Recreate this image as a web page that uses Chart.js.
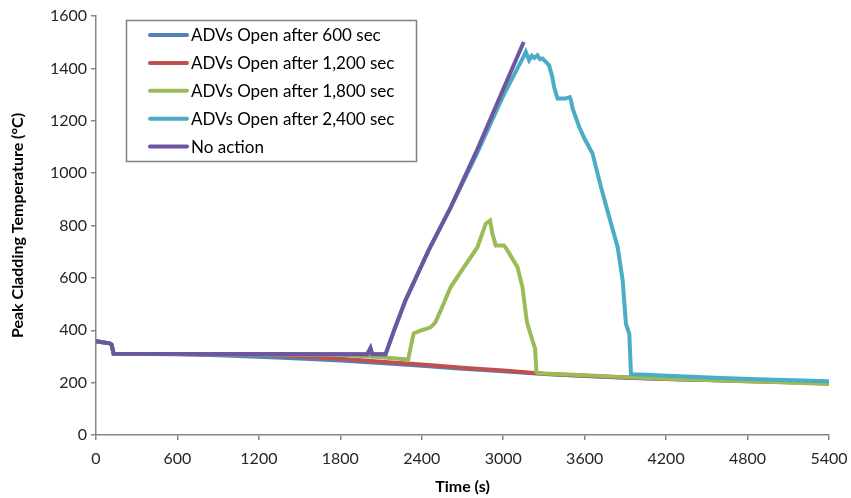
<!DOCTYPE html>
<html>
<head>
<meta charset="utf-8">
<script src="https://cdn.jsdelivr.net/npm/chart.js@4.4.1/dist/chart.umd.min.js"></script>
<style>
  html, body { margin: 0; padding: 0; background: #fff; }
  #wrap { width: 851px; height: 498px; }
</style>
</head>
<body>
<div id="wrap"><canvas id="myChart" width="851" height="498"></canvas></div>
<script>
// tick values
var xTicks = [0, 600, 1200, 1800, 2400, 3000, 3600, 4200, 4800, 5400];
var yTicks = [0, 200, 400, 600, 800, 1000, 1200, 1400, 1600];

var labels = [
  "ADVs Open after 600 sec",
  "ADVs Open after 1,200 sec",
  "ADVs Open after 1,800 sec",
  "ADVs Open after 2,400 sec",
  "No action"
];
var colors = ["#4F81BD", "#C0504D", "#9BBB59", "#4BACC6", "#6E55A0"];

// ADVs open after 600 sec
var t600 = [0, 100, 115, 130, 600, 900, 1200, 1500, 1800, 2100, 2400, 2700, 3000, 3300, 3600, 3900, 4200, 4500, 4800, 5100, 5400];
var v600 = [358, 350, 345, 310, 308, 305, 299, 292, 284, 275, 264, 253, 243, 233, 225, 219, 214, 210, 207, 203, 200];

// ADVs open after 1,200 sec
var t1200 = [0, 100, 115, 130, 1200, 1500, 1800, 2100, 2400, 2700, 3000, 3300, 3600, 3900, 4200, 4500, 4800, 5100, 5400];
var v1200 = [358, 350, 345, 310, 307, 300, 291, 280, 269, 257, 246, 234, 226, 220, 214, 210, 205, 201, 197];

// ADVs open after 1,800 sec
var t1800 = [0, 100, 115, 130, 1800, 2100, 2300, 2320, 2340, 2400, 2465, 2500, 2539, 2613, 2711, 2810, 2871, 2903, 2920, 2945, 3006, 3031, 3105, 3142, 3155, 3175, 3210, 3235, 3245, 3260, 3600, 3900, 4200, 4500, 4800, 5100, 5400];
var v1800 = [358, 350, 345, 310, 306, 297, 288, 340, 388, 400, 411, 430, 475, 565, 641, 717, 807, 819, 769, 724, 724, 705, 641, 564, 510, 430, 370, 330, 240, 236, 228, 221, 215, 210, 205, 200, 195];

// ADVs open after 2,400 sec
var t2400 = [0, 100, 115, 130, 2000, 2010, 2022, 2035, 2133, 2200, 2280, 2450, 2613, 2800, 3000, 3100, 3150, 3166, 3191, 3210, 3230, 3252, 3270, 3289, 3338, 3360, 3375, 3400, 3460, 3490, 3498, 3511, 3560, 3600, 3658, 3720, 3781, 3843, 3880, 3904, 3929, 3941, 3960, 4300, 4600, 5000, 5400];
var v2400 = [358, 350, 345, 310, 308, 320, 332, 308, 308, 405, 514, 705, 869, 1068, 1295, 1395, 1445, 1463, 1431, 1448, 1440, 1450, 1435, 1438, 1412, 1370, 1329, 1285, 1285, 1290, 1280, 1247, 1176, 1130, 1075, 947, 832, 717, 590, 424, 386, 233, 232, 224, 218, 211, 205];

// no action
var tNo = [0, 100, 115, 130, 2000, 2010, 2022, 2035, 2133, 2200, 2280, 2450, 2613, 2800, 3000, 3151];
var vNo = [358, 350, 345, 310, 308, 320, 332, 308, 308, 405, 514, 705, 869, 1080, 1320, 1501];

function pts(t, v) {
  return t.map(function (x, i) { return { x: x, y: v[i] }; });
}

var series = [pts(t600, v600), pts(t1200, v1200), pts(t1800, v1800), pts(t2400, v2400), pts(tNo, vNo)];

var FONT = "Lato, 'Open Sans', sans-serif";
var axisColor = "#868686";

// legend box drawn inside the plot area, like the original
var boxLegend = {
  id: "boxLegend",
  afterDraw: function (chart) {
    var c = chart.ctx;
    var x0 = 126.5, y0 = 20.5, w = 290, h = 141;
    c.save();
    c.fillStyle = "#fff";
    c.fillRect(x0, y0, w, h);
    c.strokeStyle = "#808080";
    c.lineWidth = 1.5;
    c.strokeRect(x0, y0, w, h);
    c.font = "17px " + FONT;
    c.textBaseline = "middle";
    chart.data.datasets.forEach(function (ds, i) {
      var y = 35 + i * 27.9;
      c.strokeStyle = ds.borderColor;
      c.lineWidth = 4;
      c.lineCap = "round";
      c.beginPath();
      c.moveTo(150, y);
      c.lineTo(187, y);
      c.stroke();
      c.fillStyle = "#000";
      c.fillText(ds.label, 191, y + 1);
    });
    c.restore();
  }
};

function plain(v) { return String(v); }

var ctx = document.getElementById("myChart").getContext("2d");
var myChart = new Chart(ctx, {
  type: "line",
  data: {
    datasets: series.map(function (d, i) {
      return {
        label: labels[i],
        data: d,
        fill: false,
        borderColor: colors[i],
        backgroundColor: colors[i],
        borderWidth: 4,
        pointRadius: 0,
        tension: 0,
        order: 5 - i
      };
    })
  },
  options: {
    responsive: false,
    animation: false,
    layout: { padding: { left: 0, right: 22, top: 16, bottom: 0 } },
    plugins: {
      legend: { display: false },
      tooltip: { enabled: false }
    },
    scales: {
      x: {
        type: "linear",
        min: 0,
        max: 5400,
        afterBuildTicks: function (s) { s.ticks = xTicks.map(function (v) { return { value: v }; }); },
        afterFit: function (s) { s.height = 63; s.paddingRight = 0; s.paddingLeft = 0; },
        ticks: { color: "#262626", font: { family: FONT, size: 16 }, padding: 9, maxRotation: 0, autoSkip: false, callback: plain },
        grid: { display: true, drawOnChartArea: false, drawTicks: true, tickLength: 5, color: axisColor, lineWidth: 1.5 },
        border: { display: true, color: axisColor, width: 1.5 },
        title: { display: true, text: "Time (s)", color: "#000", font: { family: FONT, size: 16, weight: "bold" }, padding: { top: 0, bottom: 2 } }
      },
      y: {
        min: 0,
        max: 1600,
        afterBuildTicks: function (s) { s.ticks = yTicks.map(function (v) { return { value: v }; }); },
        afterFit: function (s) { s.width = 96; s.paddingTop = 0; s.paddingBottom = 0; },
        ticks: { color: "#262626", font: { family: FONT, size: 16 }, padding: 4, autoSkip: false, callback: plain },
        grid: { display: true, drawOnChartArea: false, drawTicks: true, tickLength: 5, color: axisColor, lineWidth: 1.5 },
        border: { display: true, color: axisColor, width: 1.5 },
        title: { display: true, text: "Peak Cladding Temperature (°C)", color: "#000", font: { family: FONT, size: 16, weight: "bold" }, padding: { top: 8, bottom: 0 } }
      }
    }
  },
  plugins: [boxLegend]
});
</script>
</body>
</html>
